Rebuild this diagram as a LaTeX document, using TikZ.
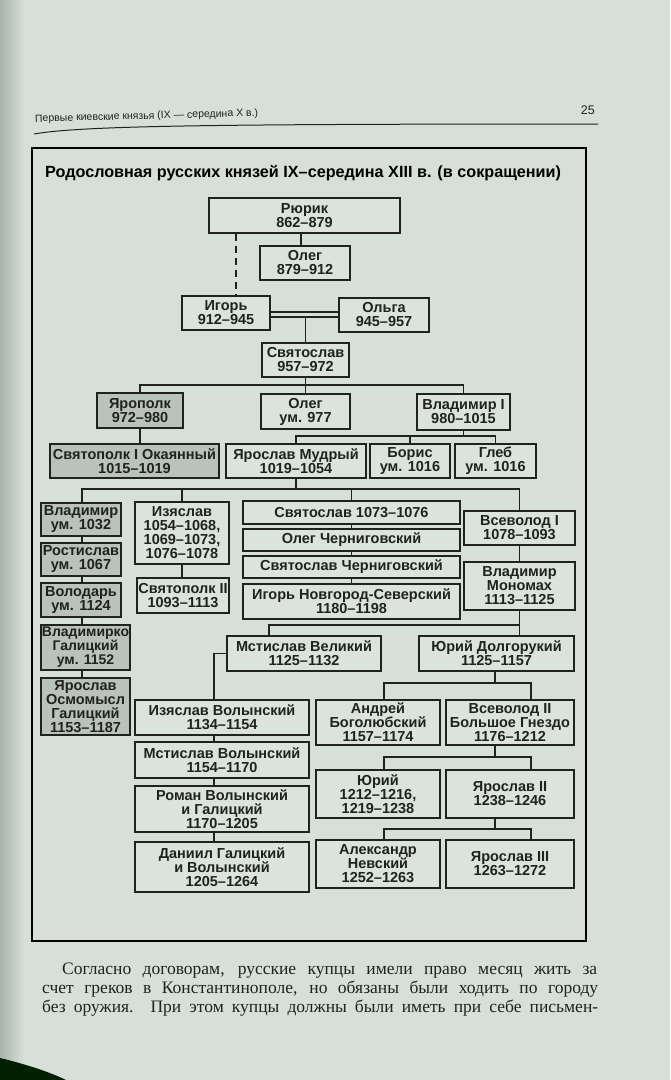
\documentclass[tikz,border=0pt]{standalone}
\usepackage{fontspec}
\setmainfont{Liberation Serif}
\newfontfamily\chartfont{Liberation Sans}
\usetikzlibrary{calc}
\definecolor{paper}{RGB}{214,224,216}
\definecolor{paperdark}{RGB}{168,180,172}
\definecolor{boxfill}{RGB}{218,228,220}
\definecolor{shadefill}{RGB}{186,194,188}
\definecolor{ink}{RGB}{32,34,32}
\newcommand\bx[7][]{\node[box,#1,minimum width={#5pt-#3pt},minimum height={#6pt-#4pt}] (#2) at ({(#3+#5)/2},{(#4+#6)/2}) {#7};}
\begin{document}
\begin{tikzpicture}[x=1pt,y=-1pt,
  box/.style={draw=ink,line width=1.2pt,fill=boxfill,inner sep=0pt,align=center,
    text=ink,font=\chartfont\bfseries\fontsize{14.5}{14}\selectfont},
  darkbox/.style={fill=shadefill},
  narrowtext/.style={font=\chartfont\bfseries\fontsize{14}{14}\selectfont},
  link/.style={draw=ink,line width=1.2pt},
  bodytext/.style={anchor=base west,inner sep=0pt,text=ink,font=\fontsize{17.5}{19}\selectfont}]
\useasboundingbox (0,0) rectangle (670,1080);
\fill[paper] (0,0) rectangle (670,1080);
\shade[left color=paperdark,right color=paper] (0,0) rectangle (24,1080);
\fill[black!75!green!50!black] (0,1058) .. controls (25,1064) and (50,1072) .. (66,1080) -- (0,1080) -- cycle;

% header
\node[anchor=base west,inner sep=0pt,text=ink,rotate=1.5,font=\chartfont\fontsize{10.5}{12}\selectfont] (hdr) at (35,122) {Первые киевские князья (IX — середина X в.)};
\node[anchor=base east,inner sep=0pt,text=ink,font=\chartfont\fontsize{12.5}{12}\selectfont] (pg) at (595,114) {25};
\draw[ink,line width=1pt] (34,134) .. controls (80,126) and (200,124) .. (598,124);

% frame
\draw[black,line width=2.6pt] (32,148) rectangle (586,941);
\node[anchor=base west,inner sep=0pt,text=black,font=\chartfont\bfseries\fontsize{16.2}{18}\selectfont] (title) at (45,177) {Родословная русских князей IX–середина XIII в. (в сокращении)};

% boxes
\bx{rurik}{209}{198}{400}{233}{Рюрик\\862–879}
\bx{oleg}{260}{246}{350}{280}{Олег\\879–912}
\bx{igor}{182}{296}{270}{330}{Игорь\\912–945}
\bx{olga}{339}{298}{429}{332}{Ольга\\945–957}
\bx{svyat}{262}{343}{349}{377}{Святослав\\957–972}
\bx[darkbox]{yaropolk}{97}{393}{183}{428}{Ярополк\\972–980}
\bx{oleg2}{261}{394}{350}{429}{Олег\\ум. 977}
\bx{vlad1}{417}{394}{510}{430}{Владимир I\\980–1015}
\bx[darkbox]{svpolk1}{50}{444}{219}{478}{Святополк I Окаянный\\1015–1019}
\bx{yarmud}{226}{444}{366}{478}{Ярослав Мудрый\\1019–1054}
\bx{boris}{370}{444}{450}{478}{Борис\\ум. 1016}
\bx{gleb}{455}{444}{536}{478}{Глеб\\ум. 1016}

\bx[darkbox]{vlad1032}{41}{503}{121}{536}{Владимир\\ум. 1032}
\bx[darkbox]{rostislav}{41}{543}{121}{576}{Ростислав\\ум. 1067}
\bx[darkbox]{volodar}{41}{583}{121}{617}{Володарь\\ум. 1124}
\bx[darkbox,narrowtext]{vladimirko}{41}{625}{130}{670}{Владимирко\\Галицкий\\ум. 1152}
\bx[darkbox]{osmomysl}{41}{678}{130}{735}{Ярослав\\Осмомысл\\Галицкий\\1153–1187}

\bx{izyaslav}{135}{502}{229}{564}{Изяслав\\1054–1068,\\1069–1073,\\1076–1078}
\bx{svpolk2}{137}{578}{229}{613}{Святополк II\\1093–1113}

\bx{sv1073}{243}{501}{460}{524}{Святослав 1073–1076}
\bx{olegch}{243}{529}{460}{551}{Олег Черниговский}
\bx{svch}{243}{556}{460}{578}{Святослав Черниговский}
\bx{igorns}{243}{584}{460}{619}{Игорь Новгород-Северский\\1180–1198}

\bx{vsevolod1}{464}{511}{575}{545}{Всеволод I\\1078–1093}
\bx{monomakh}{464}{562}{575}{610}{Владимир\\Мономах\\1113–1125}

\bx{mstvel}{227}{636}{381}{671}{Мстислав Великий\\1125–1132}
\bx{yuridolg}{419}{636}{574}{671}{Юрий Долгорукий\\1125–1157}

\bx{izvol}{135}{700}{309}{735}{Изяслав Волынский\\1134–1154}
\bx{andrey}{316}{700}{440}{745}{Андрей\\Боголюбский\\1157–1174}
\bx{vsevolod2}{446}{700}{574}{745}{Всеволод II\\Большое Гнездо\\1176–1212}
\bx{mstvol}{135}{742}{309}{778}{Мстислав Волынский\\1154–1170}
\bx{yuri2}{316}{770}{440}{818}{Юрий\\1212–1216,\\1219–1238}
\bx{yar2}{446}{770}{574}{818}{Ярослав II\\1238–1246}
\bx{roman}{135}{786}{309}{832}{Роман Волынский\\и Галицкий\\1170–1205}
\bx{daniil}{135}{842}{309}{892}{Даниил Галицкий\\и Волынский\\1205–1264}
\bx{alex}{316}{840}{440}{888}{Александр\\Невский\\1252–1263}
\bx{yar3}{446}{840}{574}{888}{Ярослав III\\1263–1272}

% helper coordinates
\coordinate (olx) at (301,0);
\coordinate (igx) at (236,0);
\coordinate (wedA) at (0,312);
\coordinate (wedB) at (0,317);
\coordinate (bA) at (0,385);
\coordinate (bB) at (0,436);
\coordinate (bC) at (0,489);
\coordinate (colx) at (82,0);
\coordinate (bD) at (0,625);
\coordinate (mstx) at (269,0);
\coordinate (volx) at (214,0);
\coordinate (rx) at (495,0);
\coordinate (andx) at (384,0);
\coordinate (vsx) at (531,0);
\coordinate (bE) at (0,683);
\coordinate (bF) at (0,757);
\coordinate (bG) at (0,829);

% connectors
\draw[link] (rurik.south -| olx) -- (oleg.north -| olx);
\draw[link,dash pattern=on 7pt off 5pt] (rurik.south -| igx) -- (igor.north -| igx);
\draw[link] (igor.east |- wedA) -- (olga.west |- wedA);
\draw[link] (igor.east |- wedB) -- (olga.west |- wedB);
\draw[link] (svyat.north |- wedB) -- (svyat.north);

\draw[link] (svyat.south) -- (svyat.south |- bA);
\draw[link] (yaropolk.north) -- (yaropolk.north |- bA) -- (vlad1.north |- bA) -- (vlad1.north);
\draw[link] (oleg2.north) -- (oleg2.north |- bA);
\draw[link] (yaropolk.south) -- (yaropolk.south |- svpolk1.north);

\draw[link] (vlad1.south) -- (vlad1.south |- bB);
\draw[link] (yarmud.north) -- (yarmud.north |- bB) -- (gleb.north |- bB) -- (gleb.north);
\draw[link] (boris.north) -- (boris.north |- bB);

\draw[link] (yarmud.south) -- (yarmud.south |- bC);
\draw[link] (vlad1032.north -| colx) -- (colx |- bC) -- (vsevolod1.north |- bC) -- (vsevolod1.north);
\draw[link] (izyaslav.north) -- (izyaslav.north |- bC);
\draw[link] (sv1073.north) -- (sv1073.north |- bC);

\draw[link] (vlad1032.south -| colx) -- (rostislav.north -| colx);
\draw[link] (rostislav.south -| colx) -- (volodar.north -| colx);
\draw[link] (volodar.south -| colx) -- (vladimirko.north -| colx);
\draw[link] (vladimirko.south -| colx) -- (osmomysl.north -| colx);

\draw[link] (izyaslav.south) -- (izyaslav.south |- svpolk2.north);
\draw[link] (sv1073.south) -- (olegch.north);
\draw[link] (olegch.south) -- (svch.north);
\draw[link] (svch.south) -- (igorns.north);
\draw[link] (vsevolod1.south) -- (monomakh.north);

\draw[link] (monomakh.south) -- (monomakh.south |- bD) -- (mstx |- bD) -- (mstx |- mstvel.north);
\draw[link] (monomakh.south |- bD) -- (monomakh.south |- yuridolg.north);
\draw[link] (mstvel.west) -- (mstvel.west -| volx) -- (volx |- izvol.north);
\draw[link] (izvol.south -| volx) -- (mstvol.north -| volx);
\draw[link] (mstvol.south -| volx) -- (roman.north -| volx);
\draw[link] (roman.south -| volx) -- (daniil.north -| volx);

\draw[link] (yuridolg.south -| rx) -- (rx |- bE);
\draw[link] (andx |- andrey.north) -- (andx |- bE) -- (vsx |- bE) -- (vsx |- vsevolod2.north);
\draw[link] (vsevolod2.south -| rx) -- (rx |- bF);
\draw[link] (andx |- yuri2.north) -- (andx |- bF) -- (vsx |- bF) -- (vsx |- yar2.north);
\draw[link] (yar2.south -| rx) -- (rx |- bG);
\draw[link] (andx |- alex.north) -- (andx |- bG) -- (vsx |- bG) -- (vsx |- yar3.north);

% body text
\node[bodytext] (t1) at (62,974) {\makebox[535pt][s]{Согласно договорам, русские купцы имели право месяц жить за}};
\node[bodytext] (t2) at (42,993) {\makebox[556pt][s]{счет греков в Константинополе, но обязаны были ходить по городу}};
\node[bodytext] (t3) at (42,1012) {\makebox[556pt][s]{без оружия. При этом купцы должны были иметь при себе письмен-}};
\end{tikzpicture}
\end{document}
